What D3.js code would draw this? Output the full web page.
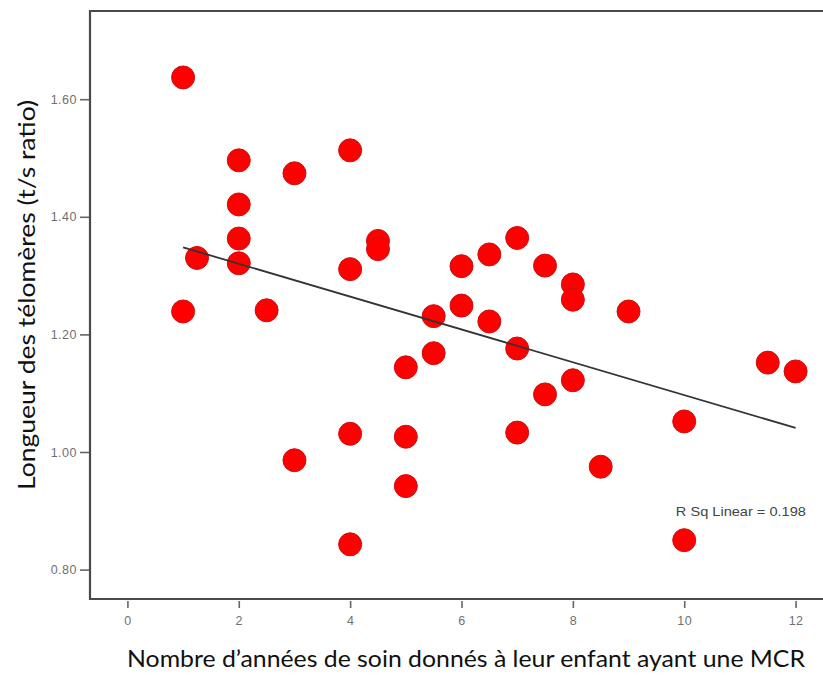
<!DOCTYPE html>
<html>
<head>
<meta charset="utf-8">
<script src="https://cdn.jsdelivr.net/npm/d3@7"></script>
<style>
  html, body { margin: 0; padding: 0; background: #ffffff; }
  svg { display: block; }
</style>
</head>
<body>
<svg id="chart" width="823" height="675"></svg>
<script>
// ---- data ----
const years = [1, 1, 1.25, 2, 2, 2, 2, 2.5, 3, 3, 4, 4, 4, 4, 4.5, 4.5, 5, 5, 5, 5.5, 5.5, 6, 6, 6.5, 6.5, 7, 7, 7, 7.5, 7.5, 8, 8, 8, 8.5, 9, 10, 10, 11.5, 12];
const telomere = [1.637, 1.239, 1.330, 1.496, 1.421, 1.363, 1.321, 1.241, 1.474, 0.986, 1.513, 1.311, 1.031, 0.843, 1.359, 1.345, 1.144, 1.026, 0.942, 1.231, 1.168, 1.316, 1.249, 1.336, 1.222, 1.364, 1.176, 1.033, 1.317, 1.098, 1.285, 1.259, 1.122, 0.975, 1.239, 1.052, 0.850, 1.152, 1.137];
const fitX = [1, 12];
const fitY = [1.348, 1.041];
const xTicks = [0, 2, 4, 6, 8, 10, 12];
const yTicks = [0.80, 1.00, 1.20, 1.40, 1.60];
const xTitle = "Nombre d\u2019ann\u00e9es de soin donn\u00e9s \u00e0 leur enfant ayant une MCR";
const yTitle = "Longueur des t\u00e9lom\u00e8res (t/s ratio)";
const rsqLabel = "R Sq Linear = 0.198";

// ---- layout ----
const mLeft = 90, mTop = 11, mBottom = 599, mRight = 833;
const svg = d3.select("#chart");

const x = d3.scaleLinear().domain([-0.672, 12.672]).range([mLeft, mRight]);
const y = d3.scaleLinear().domain([0.75, 1.75]).range([mBottom, mTop]);

// frame (top, left, bottom; right edge is off the image)
svg.append("path")
  .attr("d", `M${mRight},${mTop}H${mLeft}V${mBottom}H${mRight}`)
  .attr("fill", "none")
  .attr("stroke", "#4a4a4a")
  .attr("stroke-width", 2.2);

const tickFont = "'Liberation Sans', Arial, sans-serif";

// x axis
const xAxis = svg.append("g")
  .attr("transform", `translate(0,${mBottom + 2})`)
  .call(d3.axisBottom(x).tickValues(xTicks).tickFormat(d3.format("d")).tickSize(7).tickPadding(8));
xAxis.select(".domain").remove();
xAxis.selectAll(".tick line").attr("stroke", "#666").attr("stroke-width", 1.6);
xAxis.selectAll(".tick text")
  .attr("fill", "#707070")
  .style("font-family", tickFont)
  .style("font-size", "12.5px")
  .style("letter-spacing", "0.5px");

// y axis
const yAxis = svg.append("g")
  .attr("transform", `translate(${mLeft - 1},0)`)
  .call(d3.axisLeft(y).tickValues(yTicks).tickFormat(d3.format(".2f")).tickSize(9).tickPadding(3));
yAxis.select(".domain").remove();
yAxis.selectAll(".tick line").attr("stroke", "#666").attr("stroke-width", 1.6);
yAxis.selectAll(".tick text")
  .attr("fill", "#707070")
  .style("font-family", tickFont)
  .style("font-size", "12.5px")
  .style("letter-spacing", "0.5px");

// points
const pts = years.map((v, i) => ({ x: v, y: telomere[i] }));
svg.append("g").selectAll("circle")
  .data(pts)
  .join("circle")
  .attr("cx", d => x(d.x))
  .attr("cy", d => y(d.y))
  .attr("r", 11.5)
  .attr("fill", "#ff0000")
  .attr("stroke", "#cc1010")
  .attr("stroke-width", 1);

// fit line
const line = d3.line().x(d => x(d[0])).y(d => y(d[1]));
svg.append("path")
  .datum(fitX.map((v, i) => [v, fitY[i]]))
  .attr("d", line)
  .attr("fill", "none")
  .attr("stroke", "#333")
  .attr("stroke-width", 1.8);

// R squared label
svg.append("text")
  .attr("x", x(9.85))
  .attr("y", y(0.891))
  .attr("fill", "#444")
  .attr("textLength", 130)
  .attr("lengthAdjust", "spacingAndGlyphs")
  .style("font-family", tickFont)
  .style("font-size", "13px")
  .text(rsqLabel);

// axis titles
svg.append("text")
  .attr("x", 466)
  .attr("y", 667)
  .attr("text-anchor", "middle")
  .attr("fill", "#111")
  .attr("textLength", 678)
  .attr("lengthAdjust", "spacingAndGlyphs")
  .style("font-family", "Lato, 'Open Sans', sans-serif")
  .style("font-size", "24px")
  .text(xTitle);

svg.append("text")
  .attr("transform", `translate(35,${295}) rotate(-90)`)
  .attr("text-anchor", "middle")
  .attr("fill", "#111")
  .attr("textLength", 390)
  .attr("lengthAdjust", "spacingAndGlyphs")
  .style("font-family", "Lato, 'Open Sans', sans-serif")
  .style("font-size", "24px")
  .text(yTitle);
</script>
</body>
</html>
